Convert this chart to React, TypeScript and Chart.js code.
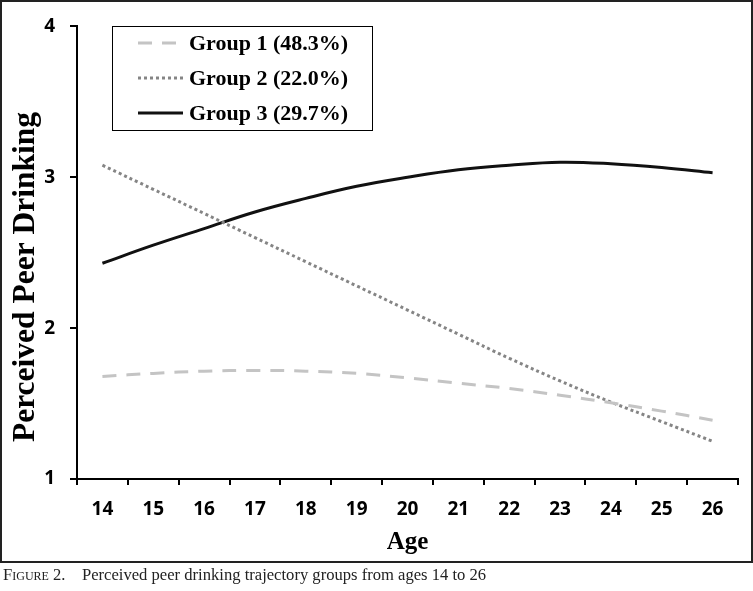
import React, { useEffect, useRef } from "react";
import { Chart, registerables } from "chart.js";

Chart.register(...registerables);

const ages = ["14", "15", "16", "17", "18", "19", "20", "21", "22", "23", "24", "25", "26"];
const group1 = [1.68, 1.70, 1.715, 1.72, 1.715, 1.70, 1.67, 1.635, 1.60, 1.555, 1.505, 1.45, 1.39];
const group2 = [3.08, 2.92, 2.76, 2.60, 2.44, 2.28, 2.12, 1.96, 1.80, 1.65, 1.51, 1.38, 1.25];
const group3 = [2.43, 2.55, 2.66, 2.77, 2.86, 2.94, 3.00, 3.05, 3.08, 3.10, 3.09, 3.065, 3.03];
const seriesLabels = ["Group 1 (48.3%)", "Group 2 (22.0%)", "Group 3 (29.7%)"];
const yMin = 1;
const yMax = 4;
const yStep = 1;
const xTitle = "Age";
const yTitle = "Perceived Peer Drinking";

const boxLegend = {
  id: "boxLegend",
  afterDraw(chart: any) {
    const ctx = chart.ctx as CanvasRenderingContext2D;
    ctx.save();
    // y-axis title
    ctx.save();
    ctx.translate(26, 277);
    ctx.rotate(-Math.PI / 2);
    ctx.fillStyle = "#000000";
    ctx.font = 'bold 31.5px "Liberation Serif"';
    ctx.textAlign = "center";
    ctx.textBaseline = "middle";
    ctx.fillText(yTitle, 0, 0);
    ctx.restore();
    // boxed legend
    ctx.fillStyle = "#ffffff";
    ctx.fillRect(112, 26, 260, 104);
    ctx.strokeStyle = "#000000";
    ctx.lineWidth = 1;
    ctx.strokeRect(112.5, 26.5, 260, 104);
    chart.data.datasets.forEach((ds: any, i: number) => {
      const y = 43 + i * 35;
      ctx.beginPath();
      ctx.setLineDash(ds.borderDash || []);
      ctx.strokeStyle = ds.borderColor;
      ctx.lineWidth = ds.borderWidth;
      ctx.lineCap = "butt";
      ctx.moveTo(138, y);
      ctx.lineTo(183, y);
      ctx.stroke();
      ctx.setLineDash([]);
      ctx.fillStyle = "#000000";
      ctx.font = 'bold 22px "Liberation Serif"';
      ctx.textBaseline = "middle";
      ctx.textAlign = "left";
      ctx.fillText(ds.label, 189, y + 1);
    });
    ctx.restore();
  },
};

export default function App() {
  const canvasRef = useRef<HTMLCanvasElement | null>(null);

  useEffect(() => {
    if (!canvasRef.current) return;
    const tickFont = { family: '"Open Sans"', size: 19, weight: "bold" as const };
    const chart = new Chart(canvasRef.current, {
      type: "line",
      data: {
        labels: ages,
        datasets: [
          {
            label: seriesLabels[0],
            data: group1,
            borderColor: "#c4c4c4",
            borderWidth: 3,
            borderDash: [14, 10],
            pointRadius: 0,
            tension: 0.4,
            fill: false,
          },
          {
            label: seriesLabels[1],
            data: group2,
            borderColor: "#858585",
            borderWidth: 3,
            borderDash: [3, 3],
            pointRadius: 0,
            tension: 0.4,
            fill: false,
          },
          {
            label: seriesLabels[2],
            data: group3,
            borderColor: "#111111",
            borderWidth: 3,
            pointRadius: 0,
            tension: 0.4,
            fill: false,
          },
        ],
      },
      options: {
        responsive: false,
        animation: false,
        layout: { padding: { top: 21, right: 15, bottom: 0, left: 0 } },
        plugins: {
          legend: { display: false },
          tooltip: { enabled: false },
        },
        scales: {
          x: {
            type: "category",
            offset: true,
            grid: {
              offset: true,
              drawOnChartArea: false,
              tickLength: 6,
              color: "#000",
              lineWidth: 2,
            },
            border: { color: "#000", width: 2 },
            ticks: {
              font: tickFont,
              color: "#000",
              padding: 13,
              maxRotation: 0,
              autoSkip: false,
            },
            title: {
              display: true,
              text: xTitle,
              color: "#000",
              font: { family: '"Liberation Serif"', size: 25, weight: "bold" },
              padding: { top: 0, bottom: 5 },
            },
            afterFit: (s: any) => {
              s.height = 84;
            },
          },
          y: {
            min: yMin,
            max: yMax,
            ticks: {
              stepSize: yStep,
              font: tickFont,
              color: "#000",
              padding: 15,
            },
            grid: {
              drawOnChartArea: false,
              tickLength: 7,
              color: "#000",
              lineWidth: 2,
            },
            border: { color: "#000", width: 2 },
            title: { display: false },
            afterFit: (s: any) => {
              s.width = 77;
            },
          },
        },
      },
      plugins: [boxLegend],
    });
    return () => chart.destroy();
  }, []);

  return (
    <div style={{ position: "absolute", left: 0, top: 0, width: 753, height: 591, background: "#fff" }}>
      <canvas
        ref={canvasRef}
        width={753}
        height={563}
        style={{ position: "absolute", left: 0, top: 0, display: "block" }}
      />
      <div
        style={{
          position: "absolute",
          left: 0,
          top: 0,
          width: 753,
          height: 563,
          boxSizing: "border-box",
          border: "2px solid #222",
          pointerEvents: "none",
        }}
      />
      <div
        style={{
          position: "absolute",
          left: 3,
          top: 565,
          height: 19,
          lineHeight: "19px",
          fontFamily: '"Liberation Serif", serif',
          fontSize: 16.6,
          color: "#222",
          whiteSpace: "nowrap",
        }}
      >
        <span style={{ display: "inline-block", width: 79, fontVariant: "small-caps" }}>Figure 2.</span>
        <span>Perceived peer drinking trajectory groups from ages 14 to 26</span>
      </div>
    </div>
  );
}
